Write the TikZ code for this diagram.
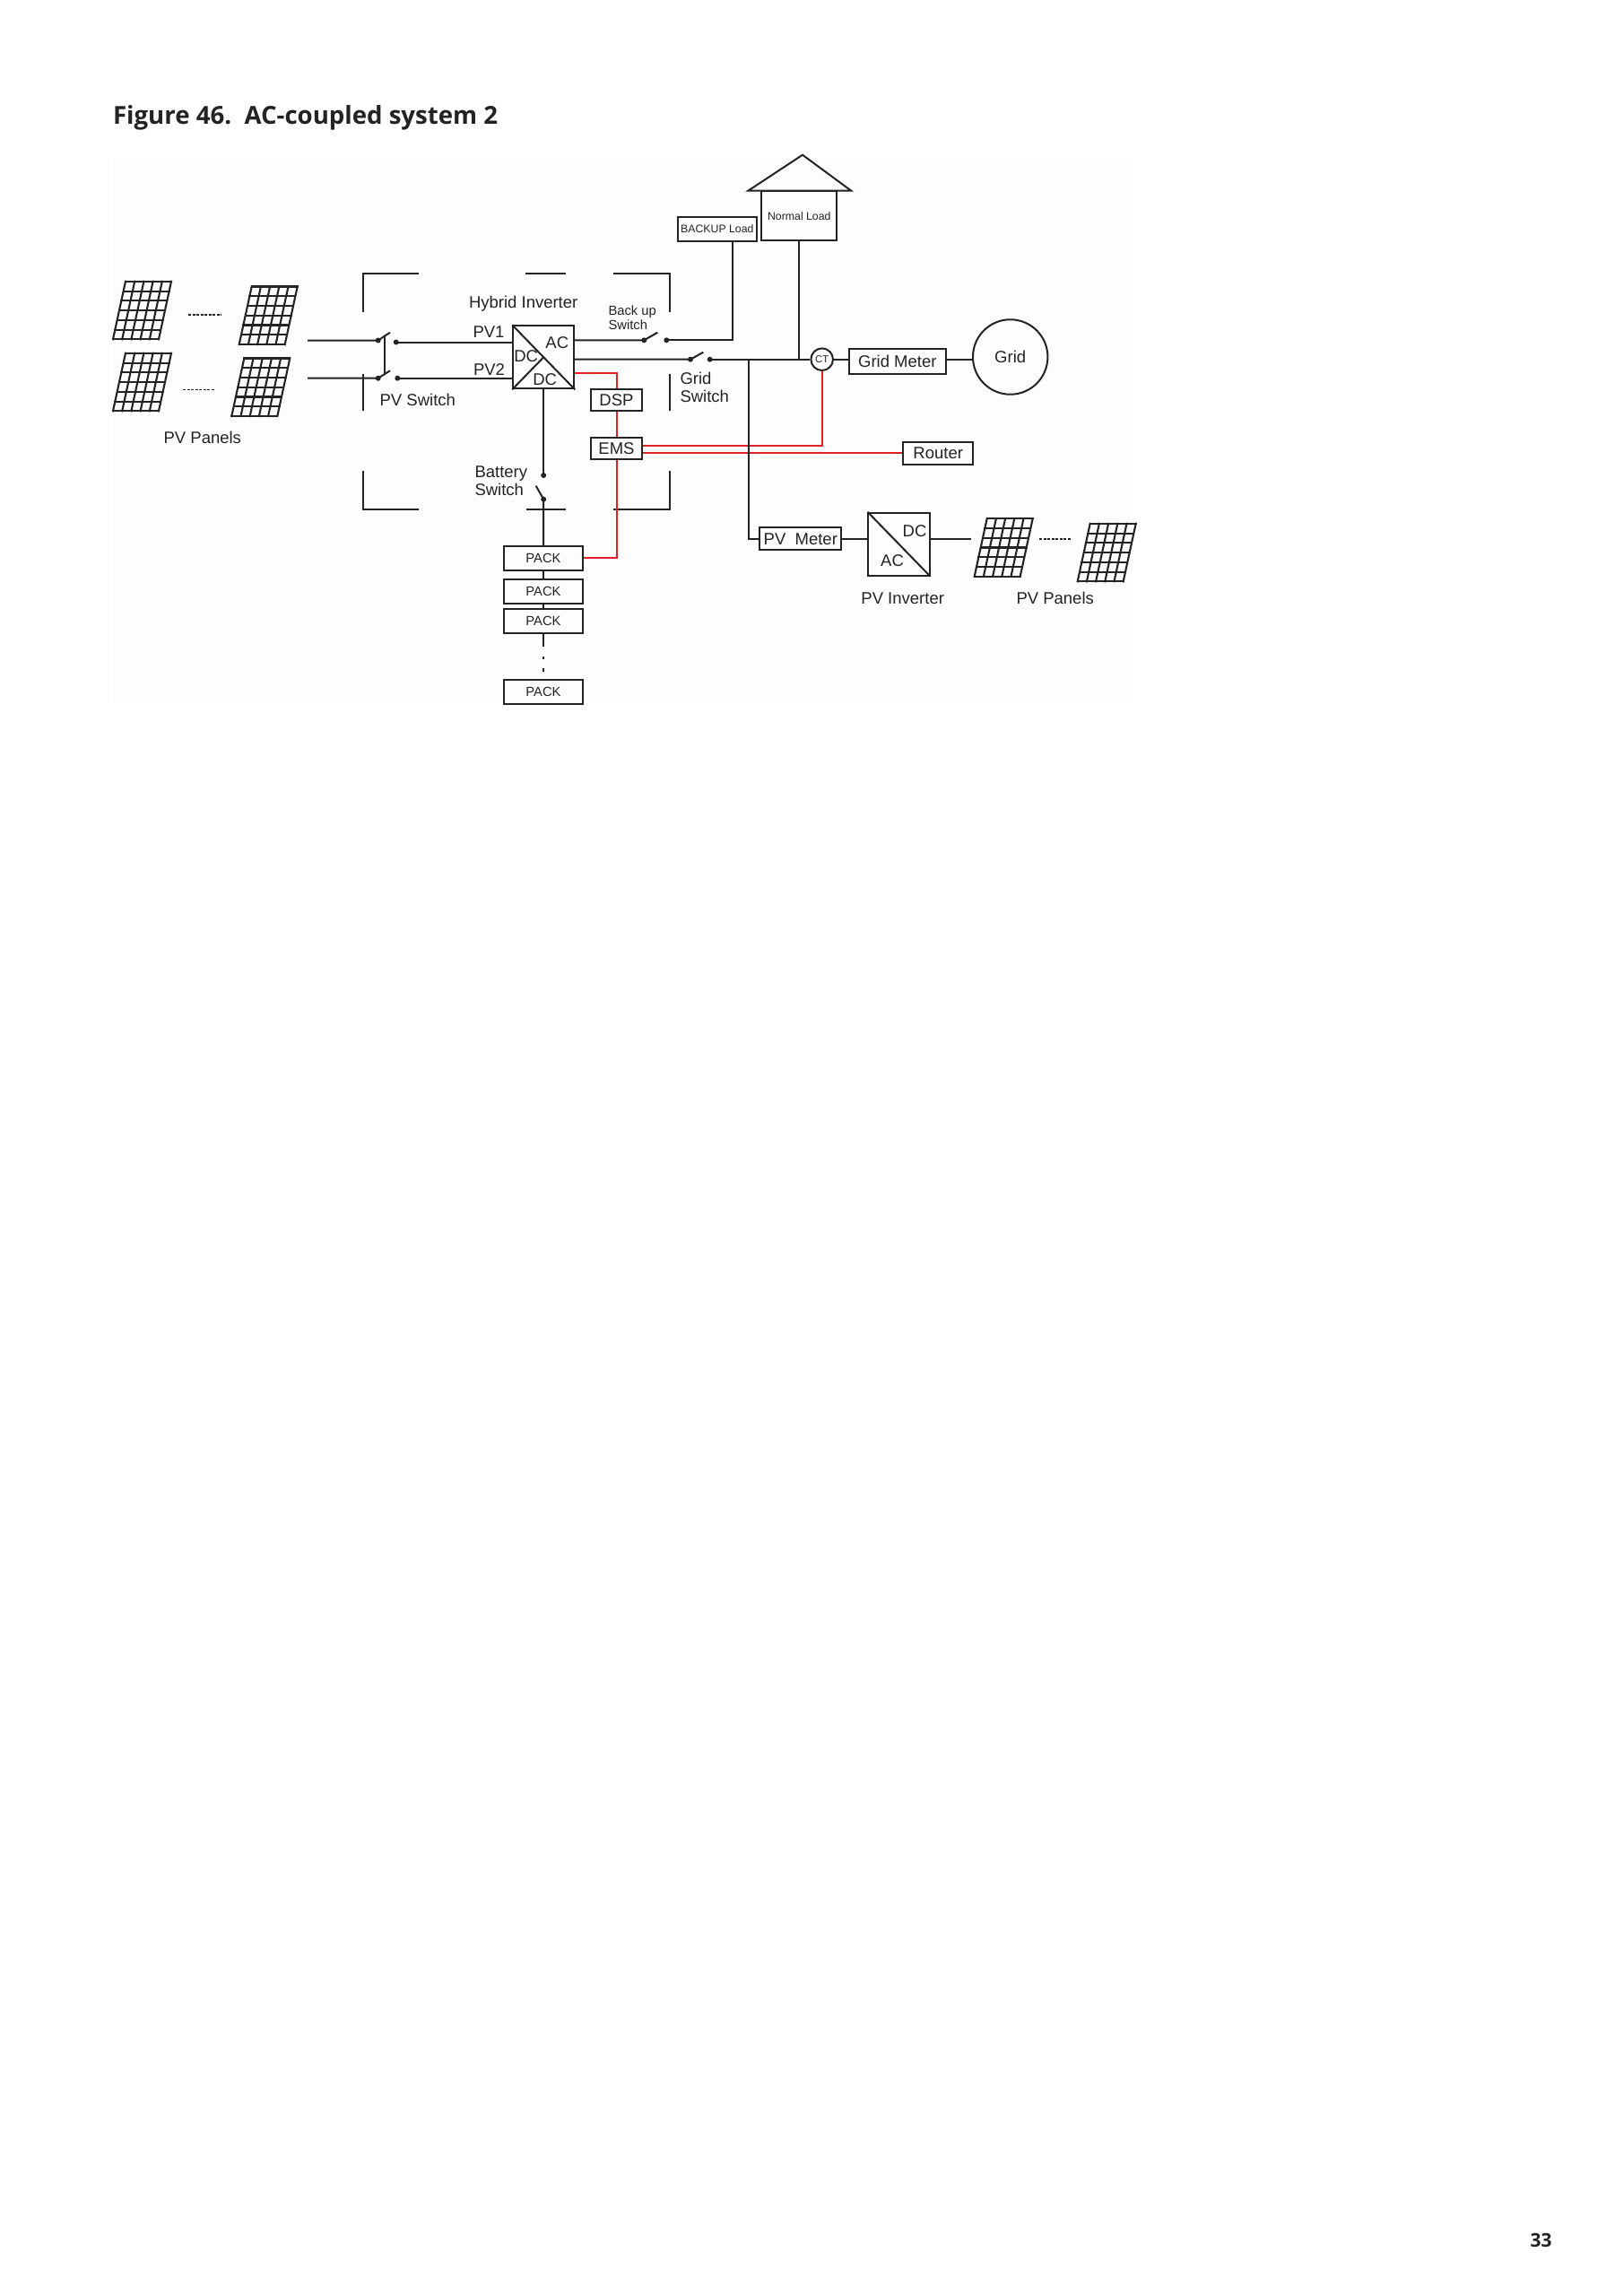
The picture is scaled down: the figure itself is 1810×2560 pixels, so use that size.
\documentclass[tikz,border=0pt]{standalone}
\usepackage{fontspec}
\setmainfont{Liberation Sans}
\newfontfamily\headfont{Open Sans}
\definecolor{wire}{RGB}{35,35,35}
\definecolor{sigred}{RGB}{226,32,38}
\begin{document}
\begin{tikzpicture}[x=0.01cm, y=-0.01cm, line width=0.57pt, color=wire,
    lbl/.style={font=\fontsize{5.26}{5.7}\selectfont, inner sep=0pt},
    smalllbl/.style={font=\fontsize{4.2}{4.47}\selectfont, inner sep=0pt},
    tinylbl/.style={font=\fontsize{3.5}{4}\selectfont, inner sep=0pt},
    unitbox/.style={draw, rectangle, inner sep=0pt, lbl},
    packbox/.style={unitbox, smalllbl, minimum width=0.88cm, minimum height=0.267cm},
    convbox/.style={draw, rectangle, inner sep=0pt, minimum width=0.68cm, minimum height=0.70cm},
    redwire/.style={draw=sigred},
    panelline/.style={line width=0.6pt, line cap=rect},
    dotline/.style={line width=0.45pt, dash pattern=on 0.03cm off 0.015cm}]
    \useasboundingbox (0,0) rectangle (1810,2560);

    % Page
    \fill[black!0.8] (125,175) rectangle (1263,785);
    \node[anchor=base west, inner sep=0pt, font=\headfont\bfseries\fontsize{7.85}{9}\selectfont] (title) at (125,138.5) {Figure 46.~~AC-coupled system 2};
    \node[anchor=base east, inner sep=0pt, font=\headfont\bfseries\fontsize{6}{7}\selectfont] (pagenum) at (1731.7,2505.7) {33};

    % Hybrid inverter enclosure
    \draw (405,348) -- (405,305) -- (467,305);
    \draw (586,305) -- (631,305);
    \draw (684,305) -- (747,305) -- (747,348);
    \draw (405,417) -- (405,458);
    \draw (747,417) -- (747,458);
    \draw (405,525) -- (405,568) -- (467,568);
    \draw (586.7,568) -- (631,568);
    \draw (684,568) -- (747,568) -- (747,525);

    % PV panels
    \foreach \px/\py in {126/378.3, 266.7/384, 126/458.3, 258.3/464, 1086.7/642.7, 1201.7/648.3} {
        \foreach \i in {0,...,5}
            \draw[panelline] (\px+\i*10.2,\py) -- (\px+14+\i*10.2,\py-64.5);
        \foreach \j in {0,...,6}
            \draw[panelline] (\px+\j*2.333,\py-\j*10.75) -- (\px+51+\j*2.333,\py-\j*10.75);
    }
    \draw[dotline] (210,351) -- (246.7,351);
    \draw[dotline] (204,434.3) -- (240,434.3);
    \draw[dotline] (1159.3,601) -- (1195,601);
    \node[lbl] (pvpanelsl) at (225.8,488) {PV Panels};
    \node[lbl] (pvpanelsr) at (1176.7,667) {PV Panels};

    % Hybrid inverter
    \node[convbox] (hyb) at (606.2,398.3) {};
    \draw (hyb.north west) -- (hyb.south east);
    \draw (hyb.south west) -- (hyb.center);
    \node[lbl] (hybac) at (621.3,381.7) {AC};
    \node[lbl] (hybdc1) at (586.7,397.3) {DC};
    \node[lbl] (hybdc2) at (607.7,423.3) {DC};
    \node[lbl] (hyblabel) at (583.7,339) {Hybrid Inverter};
    \node[lbl] (pv1label) at (545,370.3) {PV1};
    \node[lbl] (pv2label) at (545.5,411.7) {PV2};
    \node[lbl] (pvswlabel) at (465.8,446) {PV Switch};

    % Boxes
    \node[unitbox, minimum width=0.574cm, minimum height=0.237cm] (dsp) at (687.5,446) {DSP};
    \node[unitbox, minimum width=0.574cm, minimum height=0.24cm] (ems) at (687.5,499.7) {EMS};
    \node[unitbox, minimum width=0.777cm, minimum height=0.25cm] (router) at (1046.2,505.2) {Router};
    \node[unitbox, minimum width=1.083cm, minimum height=0.274cm] (gridmeter) at (1000.8,403) {Grid Meter};
    \node[unitbox, minimum width=0.91cm, minimum height=0.25cm] (pvmeter) at (892.8,600.8) {PV\ \ Meter};
    \node[draw, circle, minimum size=0.834cm, inner sep=0pt, lbl] (grid) at (1126.7,398) {Grid};
    \node[draw, circle, minimum size=0.246cm, inner sep=0pt, font=\fontsize{3.2}{4}\selectfont] (ct) at (916.7,400.7) {CT};
    \node[unitbox, tinylbl, minimum width=0.883cm, minimum height=0.273cm] (backup) at (799.8,255.3) {BACKUP Load};
    \node[unitbox, tinylbl, minimum width=0.84cm, minimum height=0.55cm] (normal) at (891.3,240.8) {Normal Load};
    \draw (834.3,212.7) -- (895,172.7) -- (949.3,212.7) -- cycle;

    % PV inverter
    \node[convbox] (pvinv) at (1002.5,606.7) {};
    \draw (pvinv.north west) -- (pvinv.south east);
    \node[lbl] (pvinvdc) at (1020,591.7) {DC};
    \node[lbl] (pvinvac) at (995,625) {AC};
    \node[lbl] (pvinvlabel) at (1006.7,667) {PV Inverter};

    % Battery packs
    \foreach \y [count=\n] in {622.3, 659.3, 692.7, 771.7}
        \node[packbox] (pack\n) at (606,\y) {PACK};

    % Switch labels
    \node[lbl, align=left, anchor=west] (batlabel) at (528.5,536.5) {Battery\\Switch};
    \node[smalllbl, align=left, anchor=west] (bklabel) at (677.5,354) {Back up\\Switch};
    \node[lbl, align=left, anchor=west] (gslabel) at (757.5,431.7) {Grid\\Switch};

    % Switch contacts
    \coordinate (pvin1) at (343,379.5);
    \coordinate (pvin2) at (343,421.7);
    \coordinate (pv1a) at (421.7,379.5);
    \coordinate (pv1b) at (441.7,381.5);
    \coordinate (pv2a) at (421.7,421.7);
    \coordinate (pv2b) at (443.3,421.7);
    \coordinate (bk1) at (718.3,379.3);
    \coordinate (bk2) at (743.3,379.3);
    \coordinate (gs1) at (770,400.7);
    \coordinate (gs2) at (791.7,400.7);
    \coordinate (bs1) at (606.2,530);
    \coordinate (bs2) at (606.2,556.7);
    \coordinate (tap) at (835,400.7);
    \coordinate (pvout) at (1083.3,600.8);

    % Signal lines
    \draw[redwire] ([yshift=-0.177cm]hyb.east) -| (dsp.north);
    \draw[redwire] (dsp.south) -- (ems.north);
    \draw[redwire] (ems.south) |- (pack1.east);
    \draw[redwire] ([yshift=0.03cm]ems.east) -| (ct.south);
    \draw[redwire] (ems.east |- router.west) -- (router.west);

    % PV side
    \draw (pvin1) -- (pv1a) -- ++(13.3,-8.8);
    \draw (pvin2) -- (pv2a) -- ++(13.3,-8.4);
    \draw (429.3,374.5) -- (429.3,416.8);
    \draw (pv1b) -- (pv1b -| hyb.west);
    \draw (pv2b) -- (pv2b -| hyb.west);

    % AC side
    \draw (bk1 -| hyb.east) -- (bk1) -- ++(15,-8.6);
    \draw (bk2) -| ([xshift=0.17cm]backup.south);
    \draw (gs1 -| hyb.east) -- (gs1) -- ++(14.3,-8);
    \draw (gs2) -- (ct.west);
    \draw (normal.south) -- (normal.south |- gs2);
    \draw (ct.east) -- (ct.east -| gridmeter.west);
    \draw (ct.east -| gridmeter.east) -- (ct.east -| grid.west);
    \draw (tap) |- (pvmeter.west);
    \draw (pvmeter.east) -- (pvmeter.east -| pvinv.west);
    \draw (pvinv.east |- pvout) -- (pvout);

    % Battery side
    \draw (hyb.south) -- (bs1);
    \draw (bs2) -- ++(-8.5,-15);
    \draw (bs2) -- (pack1.north);
    \draw (pack1.south) -- (pack2.north);
    \draw (pack2.south) -- (pack3.north);
    \draw (pack3.south) -- ++(0,14);
    \draw (606,731.5) -- (606,735) (606,745) -- (606,748.5);

    \foreach \c in {pv1a,pv1b,pv2a,pv2b,bk1,bk2,gs1,gs2,bs1,bs2}
        \fill (\c) circle (0.85pt);

\end{tikzpicture}
\end{document}
